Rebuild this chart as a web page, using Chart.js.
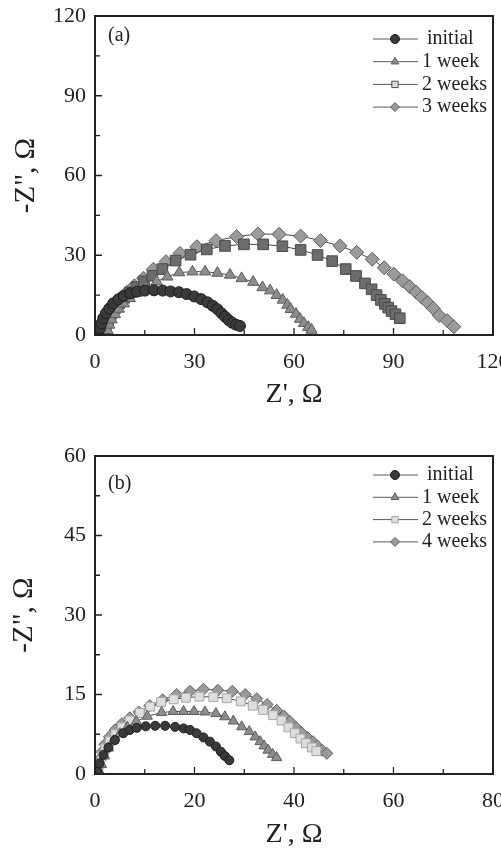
<!DOCTYPE html>
<html>
<head>
<meta charset="utf-8">
<script src="https://cdn.jsdelivr.net/npm/chart.js@4.4.1/dist/chart.umd.min.js"></script>
<style>
  html, body { margin: 0; padding: 0; background: #fff; width: 501px; height: 848px; overflow: hidden; }
  canvas { position: absolute; left: 0; }
  #chartA { top: -10px; }
  #chartB { top: 420px; }
</style>
</head>
<body>
<canvas id="chartA" width="530" height="440"></canvas>
<canvas id="chartB" width="530" height="440"></canvas>
<script>
// panel (a), [Z', -Z'']
const initialA = [[1.0,0.2],[1.5,2.5],[2.0,4.4],[2.5,6.3],[3.3,8.2],[4.3,10.0],[5.5,11.9],[7.0,13.4],[8.7,14.7],[10.6,15.7],[12.6,16.3],[15.1,16.7],[17.8,16.8],[20.4,16.7],[22.8,16.4],[25.3,16.1],[27.6,15.4],[29.9,14.5],[32.0,13.5],[33.9,12.3],[35.5,11.0],[36.9,9.7],[38.1,8.2],[39.2,6.9],[40.3,5.6],[41.4,4.6],[42.5,3.9],[43.7,3.4]];
const week1A = [[3.5,0.2],[3.8,1.8],[4.3,3.8],[5.0,5.8],[6.0,7.8],[7.2,9.8],[8.7,11.8],[10.5,13.8],[12.6,15.8],[15.2,17.8],[18.6,20.1],[21.8,21.9],[25.4,23.5],[29.4,23.8],[33.2,23.8],[36.9,23.3],[40.7,22.6],[44.2,21.3],[47.7,19.9],[50.5,17.9],[52.8,16.7],[54.8,15.0],[56.6,13.2],[58.0,11.3],[59.0,9.7],[60.6,7.9],[61.8,6.0],[63.0,4.4],[64.3,2.9],[65.3,1.9]];
const weeks2A = [[2.5,0.2],[2.8,2.0],[3.3,4.0],[4.0,6.0],[4.9,8.0],[6.0,10.0],[7.3,12.0],[8.8,14.0],[10.5,16.0],[12.5,18.0],[14.8,20.2],[17.3,22.3],[20.3,24.8],[24.3,28.0],[28.8,30.2],[33.7,32.2],[39.2,33.5],[44.9,34.1],[50.7,34.1],[56.5,33.4],[62.0,32.0],[67.1,30.1],[71.5,27.8],[75.6,24.8],[78.7,22.2],[81.4,19.4],[83.4,17.2],[84.9,15.0],[86.2,13.2],[87.4,11.7],[88.4,10.3],[89.4,9.0],[90.6,7.8],[91.9,6.3]];
const weeks3A = [[1.2,0.5],[1.6,2.8],[2.3,5.0],[3.2,7.2],[4.4,9.4],[5.9,11.6],[7.6,13.8],[9.6,16.0],[11.9,18.5],[14.6,21.3],[17.6,24.7],[21.4,27.6],[25.6,30.7],[30.7,33.2],[36.5,35.5],[42.7,37.0],[49.1,38.0],[55.5,37.9],[62.0,37.2],[68.0,35.5],[73.9,33.5],[78.9,31.1],[83.6,28.5],[87.2,25.3],[90.1,22.9],[92.7,20.4],[94.9,18.2],[96.8,16.1],[98.5,14.2],[100.3,12.2],[102.0,10.0],[103.8,7.3],[106.2,5.4],[108.2,3.1]];

// panel (b)
const initialB = [[0.5,0.4],[0.9,2.0],[1.7,3.6],[2.7,5.0],[4.0,6.4],[5.7,7.7],[7.0,8.3],[8.4,8.7],[10.2,9.0],[12.1,9.1],[14.1,9.1],[16.1,8.9],[17.8,8.6],[19.1,8.3],[20.4,7.7],[21.8,6.9],[23.1,6.1],[24.3,5.2],[25.3,4.2],[26.1,3.4],[27.0,2.6]];
const week1B = [[1.0,0.3],[1.3,1.8],[1.9,3.4],[2.7,4.9],[3.7,6.3],[5.0,7.6],[6.5,8.8],[8.3,9.9],[10.5,10.9],[13.4,11.6],[15.7,11.8],[17.8,11.8],[19.9,11.8],[22.1,11.7],[24.3,11.4],[26.1,10.8],[27.8,10.0],[29.5,8.9],[31.0,8.0],[32.2,7.0],[33.2,6.1],[34.0,5.3],[34.8,4.5],[35.7,3.7],[36.5,3.1]];
const weeks2B = [[0.6,0.3],[0.9,1.8],[1.4,3.3],[2.1,4.8],[3.0,6.2],[4.1,7.5],[5.4,8.8],[7.0,10.1],[9.0,11.5],[11.1,12.7],[13.3,13.6],[15.8,14.1],[18.3,14.4],[21.0,14.6],[23.8,14.5],[26.5,14.3],[29.3,13.7],[31.7,12.9],[33.8,12.1],[35.8,11.1],[37.5,10.1],[38.9,8.8],[40.2,7.7],[41.3,6.7],[42.4,5.8],[43.6,5.0],[44.5,4.3]];
const weeks4B = [[0.4,0.3],[0.6,1.4],[0.9,2.8],[1.4,4.2],[2.0,5.6],[2.9,7.0],[4.0,8.3],[5.4,9.5],[7.0,10.6],[8.8,11.7],[11.0,12.9],[13.6,14.0],[16.4,15.0],[19.1,15.6],[21.8,16.0],[24.7,15.8],[27.6,15.6],[30.2,15.0],[32.5,14.2],[34.6,13.1],[36.5,12.0],[38.0,10.9],[39.2,9.9],[40.4,8.8],[41.5,7.8],[42.7,6.9],[43.8,6.1],[44.7,5.3],[45.6,4.5],[46.6,3.9]];

const labelsA = ['initial', '1 week', '2 weeks', '3 weeks'];
const labelsB = ['initial', '1 week', '2 weeks', '4 weeks'];

const xTitle = "Z', Ω";
const yTitle = '-Z", Ω';
const serif = "'Liberation Serif', 'DejaVu Serif', serif";

function toPoints(pairs){
    return pairs.map(p => ({ x: p[0], y: p[1] }));
}

function makeDataset(label, pairs, style){
    return {
        label: label,
        data: toPoints(pairs),
        showLine: true,
        borderColor: '#4a4a4a',
        borderWidth: 1,
        pointStyle: style.shape,
        pointRadius: style.radius,
        pointBackgroundColor: style.fill,
        pointBorderColor: style.edge,
        pointBorderWidth: 1,
        legendFill: style.legendFill || style.fill
    };
}

// inward ticks, frame, legend and panel tag
const panelDecor = {
    id: 'panelDecor',
    afterDraw(chart, args, opts){
        const { ctx, chartArea } = chart;
        const { left, right, top, bottom } = chartArea;
        const xs = chart.scales.x, ys = chart.scales.y;
        ctx.save();
        ctx.strokeStyle = '#222';
        ctx.lineWidth = 1.3;
        ctx.beginPath();
        for (let i = 0; xs.min + i * opts.xMinor <= xs.max + 1e-9; i++){
            const px = xs.getPixelForValue(xs.min + i * opts.xMinor);
            const len = i % 2 === 0 ? 7 : 5;
            ctx.moveTo(px, bottom); ctx.lineTo(px, bottom - len);
        }
        for (let i = 0; ys.min + i * opts.yMinor <= ys.max + 1e-9; i++){
            const py = ys.getPixelForValue(ys.min + i * opts.yMinor);
            const len = i % 2 === 0 ? 7 : 5;
            ctx.moveTo(left, py); ctx.lineTo(left + len, py);
        }
        ctx.stroke();
        ctx.lineWidth = 2;
        ctx.strokeRect(left, top, right - left, bottom - top);

        // panel tag
        ctx.fillStyle = '#222';
        ctx.font = '20px ' + serif;
        ctx.textBaseline = 'middle';
        ctx.textAlign = 'left';
        ctx.fillText(opts.tag, left + 13, top + opts.tagTop);

        // legend
        chart.data.datasets.forEach((ds, i) => {
            const y = top + opts.legendTop + i * opts.legendGap;
            const x0 = right - 120;
            ctx.strokeStyle = '#5a5a5a';
            ctx.lineWidth = 1;
            ctx.beginPath();
            ctx.moveTo(x0, y); ctx.lineTo(x0 + 45, y);
            ctx.stroke();
            ctx.fillStyle = ds.legendFill;
            ctx.strokeStyle = ds.pointBorderColor;
            Chart.helpers.drawPoint(ctx, { pointStyle: ds.pointStyle, radius: 4.5, borderWidth: 1, rotation: 0 }, x0 + 22, y);
            ctx.fillStyle = '#222';
            ctx.font = '20px ' + serif;
            ctx.fillText(ds.label, x0 + (i === 0 ? 54 : 49), y);
        });
        ctx.restore();
    }
};

function createPanel({ canvasId, datasets, xMax, xStep, yMax, yStep, padTop, axisHeight, titleBottom, yTitlePad, tag, tagTop, legendTop, legendGap }){
    return new Chart(document.getElementById(canvasId), {
        type: 'scatter',
        data: { datasets: datasets },
        options: {
            responsive: false,
            animation: false,
            layout: { padding: { top: padTop, right: 37, left: 0, bottom: 0 } },
            plugins: {
                legend: { display: false },
                tooltip: { enabled: false },
                panelDecor: { xMinor: xStep / 2, yMinor: yStep / 2, tag: tag, tagTop: tagTop, legendTop: legendTop, legendGap: legendGap }
            },
            scales: {
                x: {
                    type: 'linear',
                    min: 0, max: xMax,
                    grid: { display: false, drawTicks: false },
                    border: { display: false },
                    ticks: { stepSize: xStep, padding: 14, color: '#222', autoSkip: false, maxRotation: 0, font: { family: serif, size: 22 } },
                    title: { display: true, text: xTitle, color: '#222', padding: { top: 0, bottom: titleBottom }, font: { family: serif, size: 28, lineHeight: 1 } },
                    afterFit(scale){ scale.height = axisHeight; }
                },
                y: {
                    type: 'linear',
                    min: 0, max: yMax,
                    grid: { display: false, drawTicks: false },
                    border: { display: false },
                    ticks: { stepSize: yStep, padding: 9, color: '#222', font: { family: serif, size: 22 } },
                    title: { display: true, text: yTitle, color: '#222', padding: { top: yTitlePad, bottom: 0 }, font: { family: serif, size: 29, lineHeight: 1 } },
                    afterFit(scale){ scale.width = 95; }
                }
            }
        },
        plugins: [panelDecor]
    });
}

const chartA = createPanel({
    canvasId: 'chartA',
    datasets: [
        makeDataset(labelsA[0], initialA, { shape: 'circle', radius: 5.5, fill: '#3a3a3a', edge: '#1e1e1e' }),
        makeDataset(labelsA[1], week1A, { shape: 'triangle', radius: 6.5, fill: '#8c8c8c', edge: '#5e5e5e' }),
        makeDataset(labelsA[2], weeks2A, { shape: 'rect', radius: 7.5, fill: '#6c6c6c', edge: '#4a4a4a', legendFill: '#dcdcdc' }),
        makeDataset(labelsA[3], weeks3A, { shape: 'rectRot', radius: 7, fill: '#9a9a9a', edge: '#606060' })
    ],
    xMax: 120, xStep: 30, yMax: 120, yStep: 30,
    padTop: 26, axisHeight: 95, titleBottom: 21, yTitlePad: 12,
    tag: '(a)', tagTop: 20, legendTop: 23, legendGap: 22.7
});

const chartB = createPanel({
    canvasId: 'chartB',
    datasets: [
        makeDataset(labelsB[0], initialB, { shape: 'circle', radius: 4.5, fill: '#3a3a3a', edge: '#1e1e1e' }),
        makeDataset(labelsB[1], week1B, { shape: 'triangle', radius: 6, fill: '#8c8c8c', edge: '#5e5e5e' }),
        makeDataset(labelsB[2], weeks2B, { shape: 'rect', radius: 6.3, fill: '#dedede', edge: '#a6a6a6' }),
        makeDataset(labelsB[3], weeks4B, { shape: 'rectRot', radius: 6, fill: '#9a9a9a', edge: '#606060' })
    ],
    xMax: 80, xStep: 20, yMax: 60, yStep: 15,
    padTop: 36, axisHeight: 86, titleBottom: 11, yTitlePad: 10,
    tag: '(b)', tagTop: 28, legendTop: 19, legendGap: 22.3
});
</script>
</body>
</html>
